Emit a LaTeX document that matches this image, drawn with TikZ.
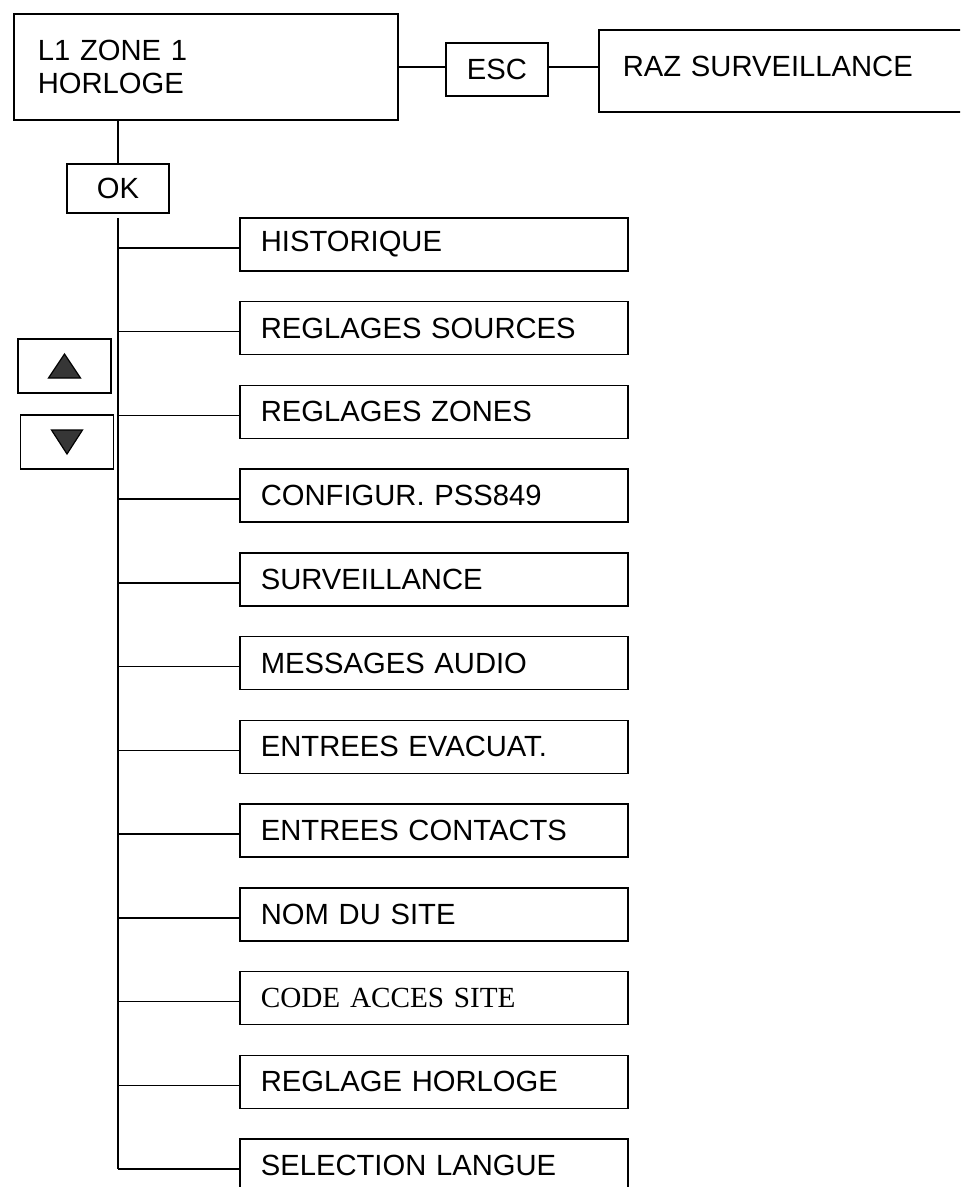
\documentclass[tikz,border=0pt]{standalone}
\usepackage{fontspec}
\setmainfont{Liberation Sans}
\newfontfamily\timesfont{Liberation Serif}
\definecolor{keygray}{HTML}{363636}

\begin{document}
\begin{tikzpicture}[x=0.5pt,y=-0.5pt,font=\fontsize{14.6}{16.5}\selectfont,
  box/.style={draw,line width=0.85pt,inner sep=0pt},
  menu/.style={box,anchor=north west,minimum width=194pt,minimum height=26.5pt,
    text width=173pt,inner xsep=10.5pt,align=left},
  key/.style={box,minimum width=46.5pt,minimum height=27pt},
  link/.style={line width=0.8pt}]

\useasboundingbox (0,0) rectangle (960,1187);
\clip (0,0) rectangle (960,1187);

% top row
\node[box,anchor=north west,minimum width=192pt,minimum height=53pt,
  text width=168pt,inner xsep=12pt,align=left] (main) at (13,13) {L1 ZONE 1\\HORLOGE};
\node[box,minimum width=51pt,minimum height=26.5pt] (esc) at (497,69.5) {ESC};
\node[box,anchor=north west,minimum width=201pt,minimum height=41pt,
  text width=177pt,inner xsep=12pt,align=left,text height=10.5pt,text depth=4.5pt]
  (raz) at (598,29) {RAZ SURVEILLANCE};

\draw[link] (main.east) -- (main.east -| esc.west);
\draw[link] (main.east -| esc.east) -- (main.east -| raz.west);

\node[box,minimum width=51pt,minimum height=24.5pt] (ok) at (118,188.5) {OK};
\draw[link] (ok.north |- main.south) -- (ok.north);

% up / down keys
\node[key] (upkey) at (64.5,366) {};
\node[key] (downkey) at (67,442) {};
\filldraw[fill=keygray,line width=0.6pt] ([shift={(0,-12)}]upkey.center)
  -- ([shift={(16,12)}]upkey.center) -- ([shift={(-16,12)}]upkey.center) -- cycle;
\filldraw[fill=keygray,line width=0.6pt] ([shift={(0,12)}]downkey.center)
  -- ([shift={(15.5,-12)}]downkey.center) -- ([shift={(-15.5,-12)}]downkey.center) -- cycle;

% menu entries
\node[menu] (m1) at (239,217) {HISTORIQUE};
\node[menu] (m2) at (239,300.75) {REGLAGES SOURCES};
\node[menu] (m3) at (239,384.5) {REGLAGES ZONES};
\node[menu] (m4) at (239,468.25) {CONFIGUR. PSS849};
\node[menu] (m5) at (239,552) {SURVEILLANCE};
\node[menu] (m6) at (239,635.75) {MESSAGES AUDIO};
\node[menu] (m7) at (239,719.5) {ENTREES EVACUAT.};
\node[menu] (m8) at (239,803.25) {ENTREES CONTACTS};
\node[menu] (m9) at (239,887) {NOM DU SITE};
\node[menu] (m10) at (239,970.75) {\timesfont CODE ACCES SITE};
\node[menu] (m11) at (239,1054.5) {REGLAGE HORLOGE};
\node[menu] (m12) at (239,1138.25) {SELECTION LANGUE};

\draw[link] ([yshift=-2pt]ok.south) -- ([yshift=-1.75pt]m12.west -| ok.south);
\foreach \m in {m1,m2,m3,m4,m5,m6,m7,m8,m9,m10,m11,m12}
  \draw[link] ([yshift=-1.75pt]\m.west) -- ([yshift=-1.75pt]\m.west -| ok.south);

\end{tikzpicture}
\end{document}
